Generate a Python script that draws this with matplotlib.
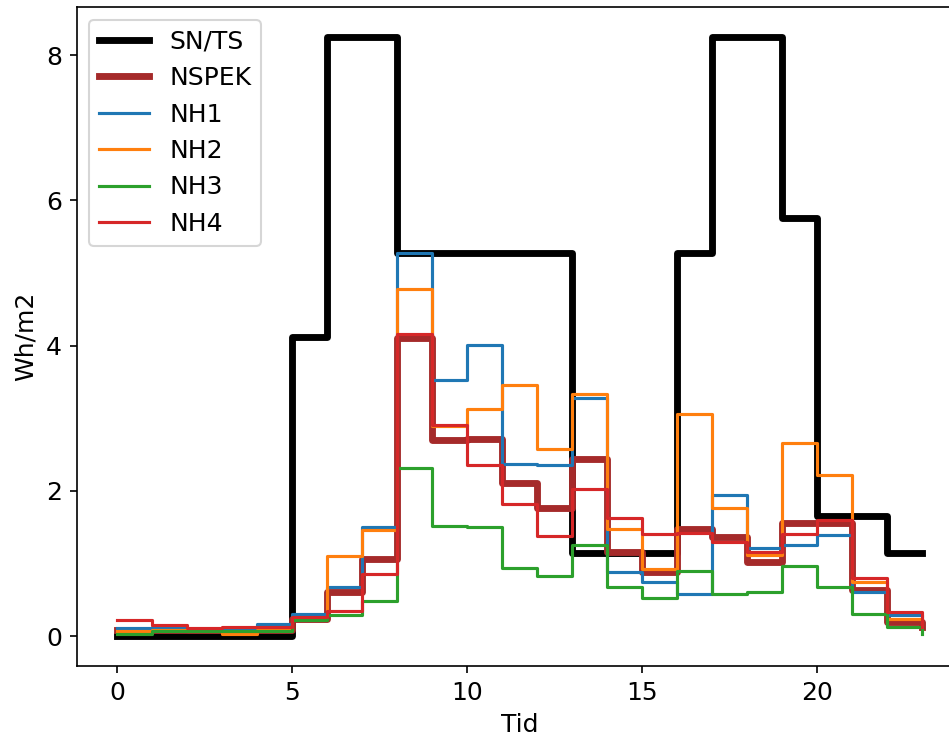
import matplotlib
matplotlib.use("Agg")
import matplotlib.pyplot as plt

hours = list(range(24))

sn_ts = [0, 0, 0, 0, 0, 4.12, 8.25, 8.25, 5.28, 5.28, 5.28, 5.28, 5.28,
         1.15, 1.15, 1.15, 5.28, 8.25, 8.25, 5.76, 1.65, 1.65, 1.15, 1.15]
nspek = [0.08, 0.09, 0.08, 0.08, 0.09, 0.24, 0.61, 1.06, 4.10, 2.70, 2.71, 2.11, 1.76,
         2.44, 1.16, 0.88, 1.48, 1.37, 1.02, 1.55, 1.56, 0.63, 0.20, 0.13]
nh1 = [0.11, 0.12, 0.10, 0.10, 0.17, 0.31, 0.67, 1.50, 5.28, 3.53, 4.01, 2.37, 2.35,
       3.28, 0.88, 0.75, 0.58, 1.94, 1.21, 1.26, 1.39, 0.60, 0.29, 0.13]
nh2 = [0.07, 0.09, 0.07, 0.03, 0.09, 0.25, 1.10, 1.46, 4.78, 2.89, 3.13, 3.46, 2.57,
       3.34, 1.48, 0.93, 3.06, 1.76, 1.11, 2.66, 2.22, 0.75, 0.24, 0.15]
nh3 = [0.03, 0.07, 0.07, 0.07, 0.07, 0.22, 0.29, 0.48, 2.31, 1.52, 1.50, 0.94, 0.83,
       1.25, 0.68, 0.52, 0.89, 0.58, 0.61, 0.96, 0.67, 0.31, 0.13, 0.03]
nh4 = [0.22, 0.15, 0.11, 0.13, 0.13, 0.26, 0.35, 0.85, 4.16, 2.91, 2.35, 1.82, 1.38,
       2.02, 1.63, 1.41, 1.42, 1.30, 1.16, 1.41, 1.60, 0.80, 0.33, 0.13]

plt.rcParams["font.size"] = 12

W, H, DPI = 949, 738, 150
fig = plt.figure(figsize=(W / DPI, H / DPI), dpi=DPI)
ax = fig.add_axes([76.75 / W, 72.0 / H, 885.5 / W, 659.0 / H])

ax.plot(hours, sn_ts, drawstyle="steps-post", color="black", lw=3.3, label="SN/TS")
ax.plot(hours, nspek, drawstyle="steps-post", color="brown", lw=3.3, label="NSPEK")
ax.plot(hours, nh1, drawstyle="steps-post", color="tab:blue", lw=1.5, label="NH1")
ax.plot(hours, nh2, drawstyle="steps-post", color="tab:orange", lw=1.5, label="NH2")
ax.plot(hours, nh3, drawstyle="steps-post", color="tab:green", lw=1.5, label="NH3")
ax.plot(hours, nh4, drawstyle="steps-post", color="tab:red", lw=1.5, label="NH4")

ax.set_xlabel("Tid")
ax.set_ylabel("Wh/m2")
ax.legend(loc="upper left")

fig.savefig("out.png", dpi=DPI)
